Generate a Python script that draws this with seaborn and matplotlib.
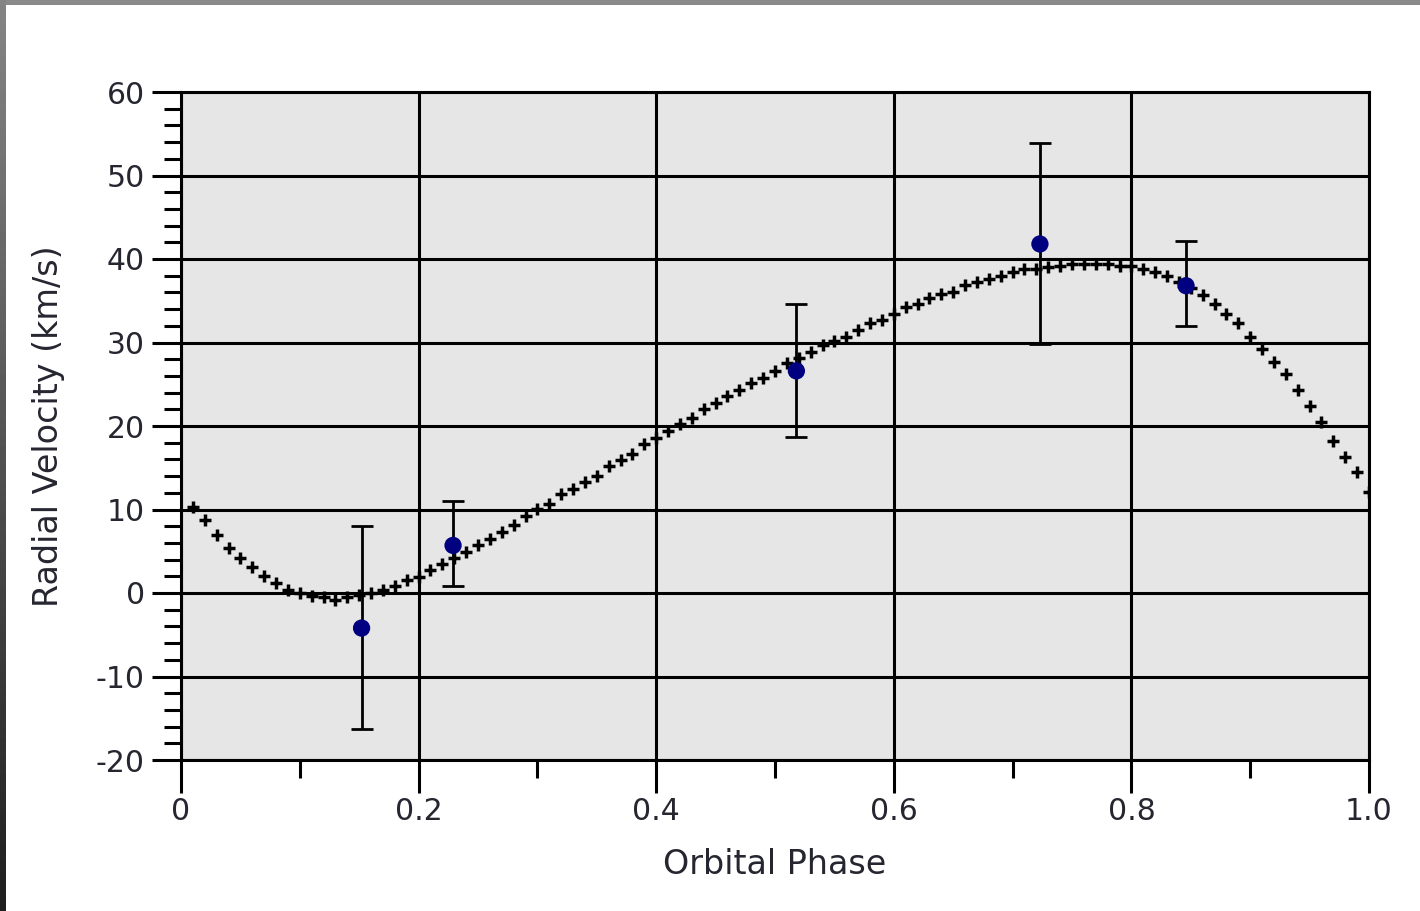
import matplotlib
matplotlib.use("Agg")
import matplotlib.pyplot as plt
import seaborn as sns
import numpy as np
import pandas as pd
from matplotlib.ticker import MultipleLocator, FixedLocator

# ---------------- data ----------------
fit_phase = [0.01, 0.02, 0.03, 0.04, 0.05, 0.06, 0.07, 0.08, 0.09, 0.10,
             0.11, 0.12, 0.13, 0.14, 0.15, 0.16, 0.17, 0.18, 0.19, 0.20,
             0.21, 0.22, 0.23, 0.24, 0.25, 0.26, 0.27, 0.28, 0.29, 0.30,
             0.31, 0.32, 0.33, 0.34, 0.35, 0.36, 0.37, 0.38, 0.39, 0.40,
             0.41, 0.42, 0.43, 0.44, 0.45, 0.46, 0.47, 0.48, 0.49, 0.50,
             0.51, 0.52, 0.53, 0.54, 0.55, 0.56, 0.57, 0.58, 0.59, 0.60,
             0.61, 0.62, 0.63, 0.64, 0.65, 0.66, 0.67, 0.68, 0.69, 0.70,
             0.71, 0.72, 0.73, 0.74, 0.75, 0.76, 0.77, 0.78, 0.79, 0.80,
             0.81, 0.82, 0.83, 0.84, 0.85, 0.86, 0.87, 0.88, 0.89, 0.90,
             0.91, 0.92, 0.93, 0.94, 0.95, 0.96, 0.97, 0.98, 0.99, 1.00]
fit_rv = [10.3, 8.7, 6.9, 5.4, 4.2, 3.1, 2.0, 1.2, 0.4, 0.0,
          -0.4, -0.5, -0.8, -0.5, -0.2, 0.0, 0.4, 0.8, 1.5, 1.9,
          2.7, 3.5, 4.2, 4.9, 5.7, 6.5, 7.3, 8.2, 9.2, 10.1,
          10.7, 11.8, 12.5, 13.3, 14.0, 15.2, 15.9, 16.7, 17.8, 18.6,
          19.4, 20.2, 20.9, 22.0, 22.8, 23.6, 24.3, 25.1, 25.8, 26.6,
          27.5, 28.2, 28.9, 29.7, 30.2, 30.7, 31.5, 32.3, 32.7, 33.4,
          34.2, 34.6, 35.3, 35.8, 36.1, 36.9, 37.2, 37.6, 38.0, 38.4,
          38.8, 38.8, 39.1, 39.2, 39.4, 39.4, 39.4, 39.4, 39.2, 39.2,
          38.8, 38.4, 38.0, 37.2, 36.5, 35.7, 34.6, 33.4, 32.3, 30.7,
          29.2, 27.7, 26.2, 24.3, 22.4, 20.5, 18.2, 16.3, 14.5, 12.1]

obs_phase = [0.152, 0.229, 0.518, 0.723, 0.846]
obs_rv = [-4.2, 5.7, 26.6, 41.8, 36.8]
obs_err_low = [12.1, 4.9, 7.9, 12.0, 4.8]
obs_err_high = [12.2, 5.3, 8.0, 12.1, 5.4]

x_ticks = [0, 0.2, 0.4, 0.6, 0.8, 1.0]
x_tick_labels = ["0", "0.2", "0.4", "0.6", "0.8", "1.0"]
y_ticks = [-20, -10, 0, 10, 20, 30, 40, 50, 60]
y_tick_labels = ["-20", "-10", "0", "10", "20", "30", "40", "50", "60"]

x_label = "Orbital Phase"
y_label = "Radial Velocity (km/s)"

fit_df = pd.DataFrame({"phase": fit_phase, "rv": fit_rv})
obs_df = pd.DataFrame({"phase": obs_phase, "rv": obs_rv})

# ---------------- style ----------------
sns.set_theme(style="white")
plt.rcParams["font.family"] = ["DejaVu Sans"]
text_color = "#262630"

W, H = 1420, 911
fig = plt.figure(figsize=(W / 100, H / 100), dpi=100)
fig.patch.set_facecolor("white")

# window frame edges
ax_top = fig.add_axes([0, 1 - 5 / H, 1, 5 / H])
ax_top.set_axis_off()
ax_top.add_patch(plt.Rectangle((0, 0), 1, 1, transform=ax_top.transAxes, color="#8a8a8a"))
ax_left = fig.add_axes([0, 0, 6 / W, 1])
ax_left.imshow(np.linspace(0.12, 0.52, 200).reshape(-1, 1),
               aspect="auto", cmap="gray", vmin=0, vmax=1, origin="lower",
               extent=[0, 1, 0, 1])
ax_left.set_axis_off()

L, R, T, B = 181, 1369, 92, 760
ax = fig.add_axes([L / W, (H - B) / H, (R - L) / W, (B - T) / H])
ax.set_facecolor("#e6e6e6")

# fitted curve
sns.scatterplot(data=fit_df, x="phase", y="rv", marker="+", color="black",
                s=78, linewidth=2.5, ax=ax, zorder=3, legend=False)

# observations with error bars
ax.errorbar(obs_phase, obs_rv, yerr=[obs_err_low, obs_err_high], fmt="none",
            ecolor="black", elinewidth=2.0, capsize=8, capthick=2.0, zorder=4)
sns.scatterplot(data=obs_df, x="phase", y="rv", color="#000080", s=155,
                edgecolor="none", ax=ax, zorder=5, legend=False)

ax.set_xlim(0, 1.0)
ax.set_ylim(-20, 60)

ax.xaxis.set_major_locator(FixedLocator(x_ticks))
ax.set_xticklabels(x_tick_labels)
ax.xaxis.set_minor_locator(MultipleLocator(0.1))
ax.yaxis.set_major_locator(FixedLocator(y_ticks))
ax.set_yticklabels(y_tick_labels)
ax.yaxis.set_minor_locator(MultipleLocator(2))

ax.grid(True, which="major", color="black", linewidth=2.2)
ax.set_axisbelow(True)

for sp in ax.spines.values():
    sp.set_visible(True)
    sp.set_color("black")
    sp.set_linewidth(2.2)

ax.tick_params(axis="x", which="major", direction="out", length=24, width=2.2,
               color="black", pad=3, labelsize=21.5, labelcolor=text_color,
               bottom=True)
ax.tick_params(axis="x", which="minor", direction="out", length=13, width=2.2,
               color="black", bottom=True)
ax.tick_params(axis="y", which="major", direction="out", length=21, width=2.2,
               color="black", pad=5, labelsize=21.5, labelcolor=text_color,
               left=True)
ax.tick_params(axis="y", which="minor", direction="out", length=12, width=2.2,
               color="black", left=True)

ax.set_xlabel(x_label, fontsize=24, color=text_color)
ax.set_ylabel(y_label, fontsize=24, color=text_color)
ax.xaxis.set_label_coords(0.5, -0.132)
ax.yaxis.set_label_coords(-0.098, 0.5)

fig.savefig("out.png", dpi=100)
